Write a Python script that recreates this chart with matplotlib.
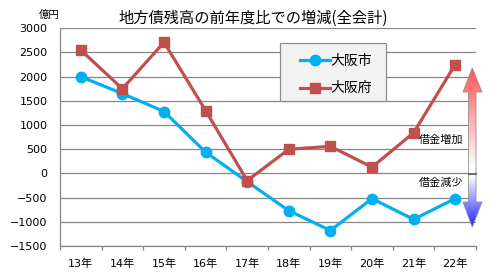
import numpy as np
import matplotlib
matplotlib.use('Agg')
import matplotlib.pyplot as plt
from matplotlib.patches import Polygon, Rectangle

plt.rcParams['font.family'] = ['DejaVu Sans', 'Noto Sans CJK JP']

# data (億円)
years = ['13年', '14年', '15年', '16年', '17年', '18年', '19年', '20年', '21年', '22年']
city = [2000, 1650, 1280, 440, -170, -770, -1180, -520, -950, -520]
pref = [2550, 1750, 2710, 1300, -150, 500, 560, 130, 840, 2250]
yticks = [-1500, -1000, -500, 0, 500, 1000, 1500, 2000, 2500, 3000]

W, H = 500, 280
fig = plt.figure(figsize=(W / 100, H / 100), dpi=100)
fig.patch.set_facecolor('white')

ax = fig.add_axes([60 / W, 1 - 246 / H, 416 / W, 217.7 / H])
x = np.arange(len(years))
grid_c = '#868686'

ax.set_xlim(-0.5, len(years) - 0.5)
ax.set_ylim(-1500, 3000)
ax.set_yticks(yticks)
ax.yaxis.grid(True, color=grid_c, lw=0.9)
ax.set_axisbelow(True)
for s in ['top', 'right']:
    ax.spines[s].set_visible(False)
for s in ['left', 'bottom']:
    ax.spines[s].set_color(grid_c)
    ax.spines[s].set_linewidth(0.9)
ax.tick_params(axis='y', length=0, pad=9, labelsize=8)
ax.set_xticks(x)
ax.set_xticklabels(years)
ax.set_xticks(np.arange(-0.5, len(years), 1), minor=True)
ax.tick_params(axis='x', which='major', length=0, pad=9, labelsize=8)
ax.tick_params(axis='x', which='minor', length=3, color=grid_c, width=0.9)

ax.plot(x, city, color='#00b0f0', lw=2.3, marker='o', ms=7.5, label='大阪市', zorder=3)
ax.plot(x, pref, color='#c0504d', lw=2.3, marker='s', ms=6.5, label='大阪府', zorder=3)

# legend box
box = Rectangle((280 / W, 1 - 101 / H), 106 / W, 58 / H, transform=fig.transFigure,
                facecolor='#f2f2f2', edgecolor='#8c8c8c', lw=0.9, zorder=4)
ax.add_patch(box)
leg = ax.legend(loc='upper left', bbox_to_anchor=(287 / W, 1 - 41 / H),
                bbox_transform=fig.transFigure, frameon=False,
                handlelength=2.2, handletextpad=0.05, labelspacing=1.0,
                prop={'family': 'Noto Sans CJK JP', 'size': 10})
leg.set_zorder(5)

fig.text(253 / W, 1 - 18 / H, '地方債残高の前年度比での増減(全会計)', ha='center', va='center',
         fontsize=11, family='Noto Sans CJK JP')
fig.text(49 / W, 1 - 15 / H, '億円', ha='center', va='center', fontsize=7.5,
         family='Noto Sans CJK JP')
fig.text(463 / W, 1 - 140 / H, '借金増加', ha='right', va='center', fontsize=8,
         family='Noto Sans CJK JP')
fig.text(463 / W, 1 - 183 / H, '借金減少', ha='right', va='center', fontsize=8,
         family='Noto Sans CJK JP')

# gradient double arrow (pixel coords, y down)
oa = fig.add_axes([0, 0, 1, 1])
oa.set_xlim(0, W)
oa.set_ylim(H, 0)
oa.axis('off')
oa.patch.set_alpha(0)
top, hb1, mid, hb2, bot = 68, 92, 174, 202, 227
xs0, xs1, xh0, xh1 = 468.5, 476, 463, 482
xc = (xs0 + xs1) / 2
pts = [(xc, top), (xh1, hb1), (xs1, hb1), (xs1, hb2), (xh1, hb2), (xc, bot),
       (xh0, hb2), (xs0, hb2), (xs0, hb1), (xh0, hb1)]
ys = np.linspace(top, bot, 400)
grad = np.ones((len(ys), 1, 3))
red = np.array([1.0, 0.33, 0.33])
blue = np.array([0.12, 0.12, 1.0])
for i, yy in enumerate(ys):
    if yy < mid:
        t = (yy - top) / (mid - 6 - top)
        t = min(max(t, 0), 1)
        grad[i, 0] = red + (1 - red) * t
    else:
        t = (yy - mid - 2) / (bot - mid - 2)
        t = min(max(t, 0), 1)
        grad[i, 0] = 1 + (blue - 1) * t
im = oa.imshow(grad, extent=[xh0, xh1, bot, top], aspect='auto', interpolation='bilinear')
poly = Polygon(pts, closed=True, facecolor='none', edgecolor='#909090', lw=0.6)
oa.add_patch(poly)
im.set_clip_path(poly)
oa.plot([xs0, xs1], [mid, mid], color='#707070', lw=1.5)
oa.set_xlim(0, W)
oa.set_ylim(H, 0)

fig.savefig('out.png', dpi=100)
